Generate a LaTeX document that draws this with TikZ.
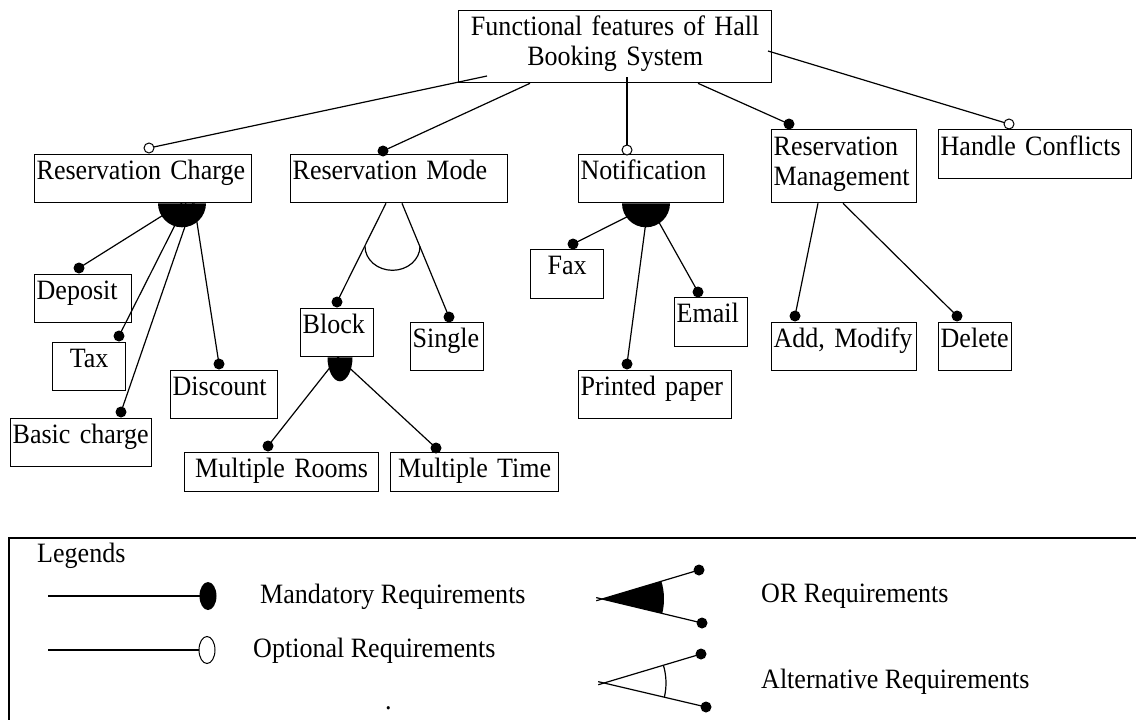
\documentclass[tikz,border=0pt]{standalone}
\usepackage{fontspec}
\setmainfont[FakeStretch=0.93]{Liberation Serif}
\usetikzlibrary{calc}
\tikzset{
  box/.style={draw, line width=1.3pt, anchor=north west, inner xsep=2pt, inner ysep=0pt,
    font=\fontsize{28pt}{30pt}\selectfont, align=left, text height=25pt, text depth=23pt},
  conn/.style={line width=1.2pt},
  mdot/.style={circle, fill, inner sep=0pt, minimum size=11pt},
  odot/.style={circle, draw, fill=white, line width=1pt, inner sep=0pt, minimum size=10pt},
  lbl/.style={font=\fontsize{28pt}{30pt}\selectfont, inner sep=0pt, anchor=base west},
}
\begin{document}
\begin{tikzpicture}[x=1pt, y=1pt]
\fill[white] (0,0) rectangle (1136,-720);
\useasboundingbox (0,0) rectangle (1136,-720);

% ---- feature boxes ----
\node[box, align=center, text width=309pt, text depth=47pt] (top) at (458,-10)
  {Functional features of Hall\\Booking System};
\node[box, text width=213pt] (rc) at (34,-154) {Reservation Charge};
\node[box, text width=213pt] (rm) at (290,-154) {Reservation Mode};
\node[box, text width=141pt] (nt) at (578,-154) {Notification};
\node[box, text width=141pt, text height=26pt, text depth=47pt] (mg) at (771,-129)
  {Reservation\\Management};
\node[box, text width=189pt, text height=26pt] (hc) at (938,-129) {Handle Conflicts};

\node[box, text width=93pt] (dep) at (34,-274) {Deposit};
\node[box, align=center, text width=69pt] (tax) at (52,-342) {Tax};
\node[box, text width=137pt] (bas) at (10,-418) {Basic charge};
\node[box, text width=103pt] (dis) at (170,-370) {Discount};

\node[box, text width=69pt] (blk) at (300,-308) {Block};
\node[box, text width=69pt] (sgl) at (410,-322) {Single};
\node[box, align=center, text width=190pt, text depth=14pt] (mr) at (184,-452) {Multiple Rooms};
\node[box, align=center, text width=164pt, text depth=14pt] (mt) at (390,-452) {Multiple Time};

\node[box, align=center, text width=69pt, text depth=24pt] (fax) at (530,-249) {Fax};
\node[box, text width=69pt, text depth=24pt] (eml) at (674,-297) {Email};
\node[box, text width=149pt] (pp) at (578,-370) {Printed paper};

\node[box, text width=141pt] (am) at (771,-322) {Add, Modify};
\node[box, text width=69pt] (del) at (938,-322) {Delete};

% ---- root to first level ----
\draw[conn] ($(top.north west)+(29,-66)$) -- ($(rc.north west)+(115,6)$) node[odot]{};
\draw[conn] ($(top.south west)+(72,0)$) -- ($(rm.north west)+(93,3)$) node[mdot]{};
\draw[conn] ($(top.north west)+(169,-67)$) -- ($(nt.north west)+(49,4)$) node[odot]{};
\draw[conn] ($(top.south west)+(240,0)$) -- ($(mg.north west)+(18,5)$) node[mdot]{};
\draw[conn] ($(top.north west)+(310,-41)$) -- ($(hc.north west)+(71,5)$) node[odot]{};

% ---- reservation charge (or group) ----
\draw[conn] ($(rc.south west)+(148,0)$) -- ($(dep.north west)+(45,6)$) node[mdot]{};
\draw[conn] ($(rc.south west)+(152,0)$) -- ($(tax.north west)+(67,6)$) node[mdot]{};
\draw[conn] ($(rc.south west)+(159,0)$) -- ($(bas.north west)+(111,6)$) node[mdot]{};
\draw[conn] ($(rc.south west)+(160,0)$) -- ($(dis.north west)+(49,6)$) node[mdot]{};
\fill ($(rc.south west)+(124,0)$) arc[start angle=180, end angle=360, radius=24pt] -- cycle;

% ---- reservation mode (alternative group) ----
\draw[conn] ($(rm.south west)+(96,0)$) -- ($(blk.north west)+(37,6)$) node[mdot]{};
\draw[conn] ($(rm.south west)+(112,0)$) -- ($(sgl.north west)+(39,5)$) node[mdot]{};
\draw[conn] ($(rm.south west)+(75,-43)$) arc[start angle=180, end angle=360, x radius=27.5pt, y radius=24pt];

% ---- block (or group) ----
\draw[conn] ($(blk.south west)+(38,0)$) -- ($(mr.north west)+(84,6)$) node[mdot]{};
\draw[conn] ($(blk.south west)+(38,0)$) -- ($(mt.north west)+(46,4)$) node[mdot]{};
\fill ($(blk.south west)+(27.5,0)$) arc[start angle=180, end angle=360, x radius=12.5pt, y radius=24pt] -- cycle;

% ---- notification (or group) ----
\draw[conn] ($(nt.south west)+(62,-7)$) -- ($(fax.north west)+(43,5)$) node[mdot]{};
\draw[conn] ($(nt.south west)+(70,-3)$) -- ($(pp.north west)+(49,6)$) node[mdot]{};
\draw[conn] ($(nt.south west)+(72,-3)$) -- ($(eml.north west)+(24,5)$) node[mdot]{};
\fill ($(nt.south west)+(44,0)$) arc[start angle=180, end angle=360, radius=24pt] -- cycle;

% ---- reservation management ----
\draw[conn] ($(mg.south west)+(47,0)$) -- ($(am.north west)+(24,6)$) node[mdot]{};
\draw[conn] ($(mg.south west)+(72,0)$) -- ($(del.north west)+(19,6)$) node[mdot]{};

% ---- legend frame ----
\draw[line width=2pt] (9,-720) -- (9,-538) -- (1136,-538);
\node[lbl] (leg) at (37,-562) {Legends};

% mandatory sample
\draw[conn] (48,-596) -- (200,-596);
\fill (208,-596) ellipse[x radius=8.5pt, y radius=14pt];
\node[lbl] (lm) at (260,-603) {Mandatory Requirements};

% optional sample
\draw[conn] (48,-650) -- (199,-650);
\draw[line width=1pt, fill=white] (207,-650) ellipse[x radius=8pt, y radius=13.5pt];
\node[lbl] (lo) at (253,-657) {Optional Requirements};

\node[lbl] (dotmark) at (385,-709) {.};

% or sample
\coordinate (ora) at (602,-599);
\coordinate (oru) at (699,-570);
\coordinate (orl) at (702,-623);
\fill (ora) -- ++(16.6:62) arc[start angle=16.6, end angle=-13.5, radius=62pt] -- cycle;
\draw[conn] ($(ora)!-6pt!(oru)$) -- (oru) node[mdot]{};
\draw[conn] ($(ora)!-6pt!(orl)$) -- (orl) node[mdot]{};
\node[lbl] (lor) at (761,-602) {OR Requirements};

% alternative sample
\coordinate (ala) at (604,-683);
\coordinate (alu) at (701,-654);
\coordinate (all) at (706,-707);
\draw[conn] ($(ala)!-6pt!(alu)$) -- (alu) node[mdot]{};
\draw[conn] ($(ala)!-6pt!(all)$) -- (all) node[mdot]{};
\draw[conn] ($(ala)+(16.6:62)$) arc[start angle=16.6, end angle=-13.2, radius=62pt];
\node[lbl] (lal) at (761,-688) {Alternative Requirements};
\end{tikzpicture}
\end{document}
